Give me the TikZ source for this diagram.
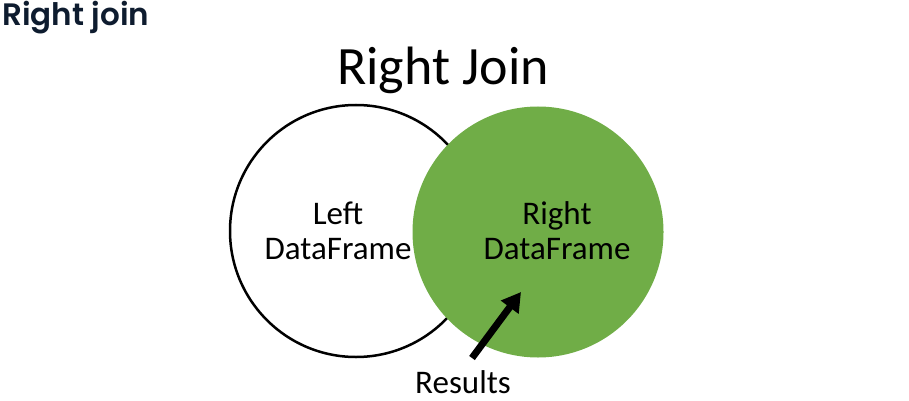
\documentclass[tikz,border=0pt]{standalone}
\usepackage{fontspec}
\setmainfont{Carlito}
\newfontfamily\headfont{Poppins}[BoldFont={* SemiBold}]
\usetikzlibrary{arrows.meta}
\definecolor{headnavy}{HTML}{0E1C2F}
\definecolor{officegreen}{HTML}{70AD47}
\tikzset{
  px/.style={x=1pt,y=-1pt},
  lbl/.style={font=\fontsize{33}{35}\selectfont, align=center, inner sep=0pt},
  setcircle/.style={circle, inner sep=0pt},
  resarrow/.style={line width=7pt, -{Triangle[length=19pt,width=21pt]}}
}
\begin{document}
\begin{tikzpicture}[px]
\useasboundingbox (0,0) rectangle (909,401);
\node[anchor=north west, inner sep=0pt, font=\headfont\bfseries\fontsize{31}{34}\selectfont, text=headnavy] (head) at (2,1) {Right join};
\node[font=\fontsize{54}{60}\selectfont, inner sep=0pt, anchor=base] (title) at (443,85) {Right Join};
\node[setcircle, draw=black, line width=2.5pt, fill=white, minimum size=252pt] (left) at (356,231) {};
\node[setcircle, fill=officegreen, minimum size=251pt] (right) at (538,232) {};
\node[lbl] (lefttxt) at (338,231) {Left\\DataFrame};
\node[lbl] (righttxt) at (557,231) {Right\\DataFrame};
\node[lbl] (res) at (463,382) {Results};
\coordinate (tip) at (521,292);
\coordinate (tail) at (472,358);
\draw[resarrow] (tail) -- (tip);
\end{tikzpicture}
\end{document}
